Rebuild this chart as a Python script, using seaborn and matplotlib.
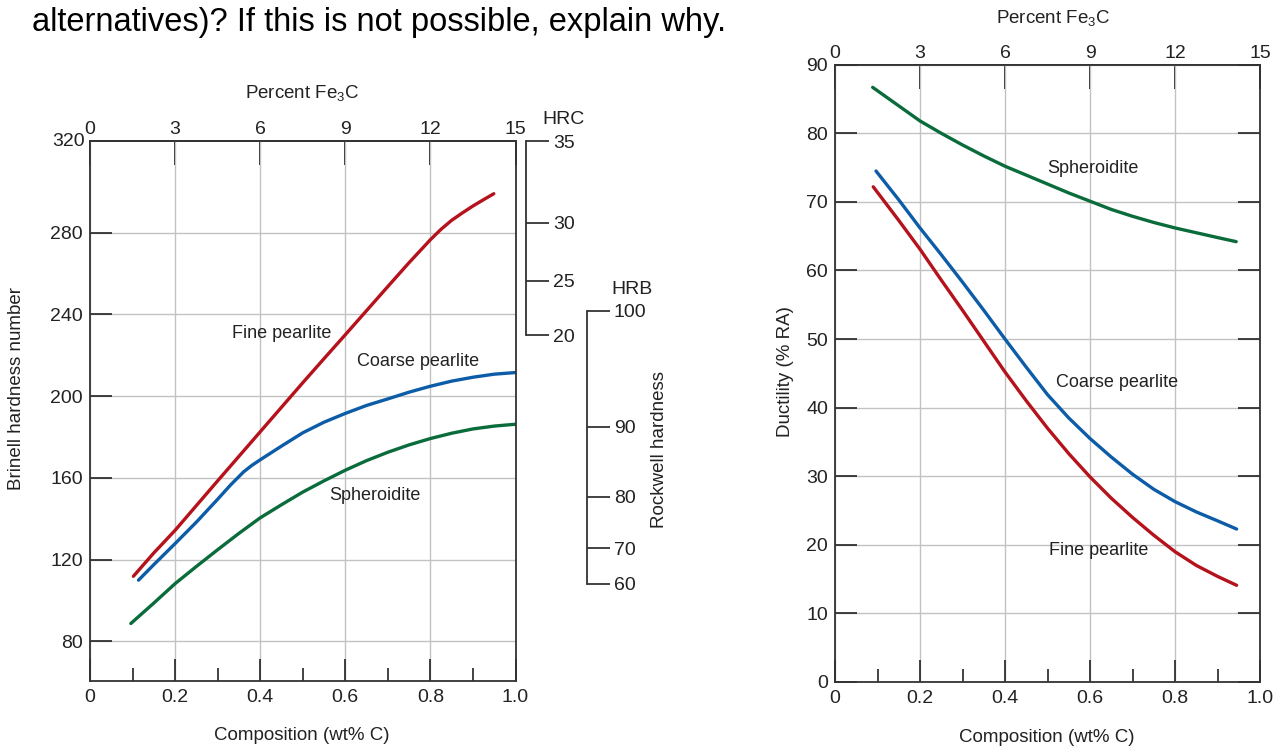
import matplotlib
matplotlib.use("Agg")
import matplotlib.pyplot as plt
import seaborn as sns
import pandas as pd

# --- data (composition in wt% C) ---
phases = ["Fine pearlite", "Coarse pearlite", "Spheroidite"]
colors = {"Fine pearlite": "#b5121b", "Coarse pearlite": "#0c5ca8", "Spheroidite": "#0a6b3b"}

# left panel: Brinell hardness
hb_fine_c = [0.102, 0.149, 0.2, 0.25, 0.3, 0.35, 0.4, 0.45, 0.5, 0.55, 0.6, 0.65, 0.7,
             0.75, 0.8, 0.825, 0.85, 0.875, 0.9, 0.925, 0.949]
hb_fine = [111.8, 123.0, 134.3, 146.4, 158.5, 170.5, 182.5, 194.5, 206.5, 218.3, 230.0,
           241.8, 253.6, 265.3, 276.5, 281.6, 286.0, 289.6, 293.0, 296.1, 299.0]
hb_coarse_c = [0.114, 0.15, 0.2, 0.25, 0.3, 0.33, 0.361, 0.38, 0.4, 0.45, 0.5, 0.55, 0.6,
               0.65, 0.7, 0.75, 0.8, 0.85, 0.9, 0.95, 1.0]
hb_coarse = [109.9, 117.5, 127.8, 138.3, 149.5, 156.4, 162.9, 166.0, 168.8, 175.5, 182.0,
             187.2, 191.5, 195.4, 198.6, 201.9, 204.8, 207.3, 209.2, 210.7, 211.5]
hb_sph_c = [0.096, 0.15, 0.2, 0.25, 0.3, 0.35, 0.4, 0.45, 0.5, 0.55, 0.6, 0.65, 0.7,
            0.75, 0.8, 0.85, 0.9, 0.95, 1.0]
hb_sph = [88.7, 98.7, 108.2, 116.6, 124.8, 132.8, 140.4, 146.8, 153.0, 158.5, 163.7,
          168.4, 172.5, 176.1, 179.2, 181.8, 183.9, 185.3, 186.2]

# right panel: ductility (% RA)
ra_fine_c = [0.09, 0.15, 0.2, 0.25, 0.3, 0.35, 0.4, 0.45, 0.5, 0.55, 0.6, 0.65, 0.7,
             0.75, 0.8, 0.85, 0.9, 0.945]
ra_fine = [72.2, 67.3, 63.1, 58.6, 54.2, 49.7, 45.2, 41.0, 37.0, 33.3, 29.9, 26.8, 24.0,
           21.4, 19.0, 17.0, 15.4, 14.1]
ra_coarse_c = [0.0965, 0.15, 0.2, 0.25, 0.3, 0.35, 0.4, 0.45, 0.5, 0.55, 0.6, 0.65, 0.7,
               0.75, 0.8, 0.85, 0.9, 0.945]
ra_coarse = [74.5, 70.3, 66.2, 62.3, 58.3, 54.2, 50.0, 45.9, 41.9, 38.5, 35.5, 32.8, 30.3,
             28.1, 26.3, 24.8, 23.5, 22.3]
ra_sph_c = [0.0886, 0.15, 0.2, 0.25, 0.3, 0.35, 0.4, 0.45, 0.5, 0.55, 0.6, 0.65, 0.7,
            0.75, 0.8, 0.85, 0.9, 0.944]
ra_sph = [86.7, 84.0, 81.8, 80.0, 78.3, 76.7, 75.2, 73.9, 72.6, 71.3, 70.1, 68.9, 67.9,
          67.0, 66.2, 65.5, 64.8, 64.2]

# Rockwell scales placed against the Brinell axis
hrc_vals = [35, 30, 25, 20]
hrc_at_hb = [324.8, 284.8, 256.4, 229.8]
hrb_vals = [100, 90, 80, 70, 60]
hrb_at_hb = [241.7, 185.0, 150.6, 125.6, 108.2]

comp_ticks = [0, 0.2, 0.4, 0.6, 0.8, 1.0]
comp_labels = ["0", "0.2", "0.4", "0.6", "0.8", "1.0"]
fe3c_ticks = [0, 3, 6, 9, 12, 15]
hb_ticks = [80, 120, 160, 200, 240, 280]
ra_ticks = list(range(0, 100, 10))


def long_df(parts):
    rows = []
    for name, xs, ys in parts:
        for x, y in zip(xs, ys):
            rows.append({"comp": x, "value": y, "phase": name})
    return pd.DataFrame(rows)


df_hb = long_df([("Fine pearlite", hb_fine_c, hb_fine),
                 ("Coarse pearlite", hb_coarse_c, hb_coarse),
                 ("Spheroidite", hb_sph_c, hb_sph)])
df_ra = long_df([("Fine pearlite", ra_fine_c, ra_fine),
                 ("Coarse pearlite", ra_coarse_c, ra_coarse),
                 ("Spheroidite", ra_sph_c, ra_sph)])

sns.set_style("white")
plt.rcParams["font.family"] = ["Liberation Sans", "DejaVu Sans"]
plt.rcParams["mathtext.default"] = "regular"

W, H = 1287, 749
fig = plt.figure(figsize=(W / 100, H / 100), dpi=100)


def box(l, t, r, b):
    return [l / W, 1 - b / H, (r - l) / W, (b - t) / H]


ink = "#222222"
ax1 = fig.add_axes(box(90, 141, 515.5, 680.5))
ax2 = fig.add_axes(box(835, 64.7, 1260, 682))

for ax, df in ((ax1, df_hb), (ax2, df_ra)):
    sns.lineplot(data=df, x="comp", y="value", hue="phase", hue_order=phases,
                 palette=colors, linewidth=2.4, legend=False, ax=ax)
    ax.set_xlim(0, 1)
    ax.set_xticks(comp_ticks, comp_labels)
    ax.set_xticks([0.1, 0.3, 0.5, 0.7, 0.9], minor=True)
    ax.tick_params(axis="x", which="major", direction="in", length=16, width=1.2,
                   color=ink, labelsize=14, labelcolor=ink, pad=6, bottom=True)
    ax.tick_params(axis="x", which="minor", direction="in", length=9.5, width=1.2,
                   color=ink, bottom=True)
    ax.tick_params(axis="y", direction="in", length=16, width=1.2, color=ink,
                   labelsize=14, labelcolor=ink, pad=5, left=True)
    ax.grid(True, which="major", color="#c2c2c2", linewidth=1)
    ax.set_axisbelow(True)
    ax.set_xlabel("")
    ax.set_ylabel("")
    for s in ax.spines.values():
        s.set_color("#333333")
        s.set_linewidth(1.3)
    sec = ax.secondary_xaxis("top", functions=(lambda c: c * 15, lambda p: p / 15))
    sec.set_xticks(fe3c_ticks)
    sec.tick_params(direction="in", length=17, width=1.3, color="#111111", labelsize=14,
                    labelcolor=ink, pad=2, top=True)
    sec.spines["top"].set_linewidth(1.3)
    sec.spines["top"].set_color("#333333")

# left panel axes
ax1.set_ylim(60.8, 324.8)
ax1.set_yticks(hb_ticks)
ax1.text(-0.012, 1.0, "320", transform=ax1.transAxes, ha="right", va="center",
         fontsize=14, color=ink)

# right panel axes
ax2.set_ylim(0, 90)
ax2.set_yticks(ra_ticks)
ax2.tick_params(axis="y", right=True, labelright=False)

# curve labels
for ax, items in ((ax1, [("Fine pearlite", 0.45, 230.8), ("Coarse pearlite", 0.771, 216.7),
                         ("Spheroidite", 0.669, 151.1)]),
                  (ax2, [("Spheroidite", 0.607, 74.8), ("Coarse pearlite", 0.664, 43.6),
                         ("Fine pearlite", 0.62, 19.2)])):
    for txt, x, y in items:
        ax.text(x, y, txt, ha="center", va="center", fontsize=13, color=ink)


# Rockwell hardness scales beside the left panel
def rockwell_axis(xpx, vals, at_hb):
    rax = fig.add_axes(box(xpx - 0.2, 141, xpx, 680.5))
    rax.set_ylim(ax1.get_ylim())
    rax.patch.set_visible(False)
    for s in ("left", "top", "bottom"):
        rax.spines[s].set_visible(False)
    rax.spines["right"].set_bounds(min(at_hb), max(at_hb))
    rax.spines["right"].set_linewidth(1.3)
    rax.spines["right"].set_color("#333333")
    rax.set_xticks([])
    rax.yaxis.tick_right()
    rax.set_yticks(at_hb, [str(v) for v in vals])
    rax.tick_params(axis="y", direction="out", length=16.5, width=1.2, color=ink,
                    labelsize=14, labelcolor=ink, pad=3, right=True)
    return rax


rockwell_axis(525.7, hrc_vals, hrc_at_hb)
rockwell_axis(586.7, hrb_vals, hrb_at_hb)

fs_lab = 13.5
fig.text(563 / W, 1 - 120 / H, "HRC", ha="center", va="center", fontsize=14, color=ink)
fig.text(632 / W, 1 - 290 / H, "HRB", ha="center", va="center", fontsize=14, color=ink)
fig.text(660 / W, 1 - 450 / H, "Rockwell hardness", rotation=90, ha="center",
         va="center", fontsize=fs_lab, color=ink)
fig.text(17 / W, 1 - 389 / H, "Brinell hardness number", rotation=90, ha="center",
         va="center", fontsize=fs_lab, color=ink)
fig.text(785 / W, 1 - 372 / H, "Ductility (% RA)", rotation=90, ha="center",
         va="center", fontsize=fs_lab, color=ink)
fig.text(302 / W, 1 - 735 / H, "Composition (wt% C)", ha="center", va="center",
         fontsize=fs_lab, color=ink)
fig.text(1047 / W, 1 - 737 / H, "Composition (wt% C)", ha="center", va="center",
         fontsize=fs_lab, color=ink)
fig.text(302 / W, 1 - 93 / H, "Percent Fe$_3$C", ha="center", va="center",
         fontsize=fs_lab, color=ink)
fig.text(1053 / W, 1 - 18 / H, "Percent Fe$_3$C", ha="center", va="center",
         fontsize=fs_lab, color=ink)

# cut-off question text at the top of the page
fig.text(32 / W, 1 - 22 / H, "alternatives)? If this is not possible, explain why.",
         ha="left", va="center", fontsize=23.5, color="black")

fig.savefig("out.png", dpi=100)
